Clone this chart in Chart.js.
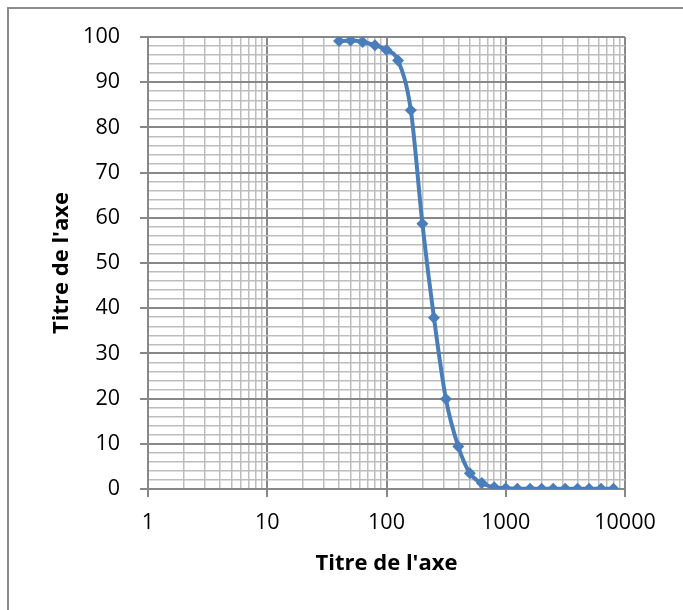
<!DOCTYPE html>
<html>
<head>
<meta charset="utf-8">
<script src="https://cdn.jsdelivr.net/npm/chart.js@4/dist/chart.umd.min.js"></script>
<style>
  html, body { margin: 0; padding: 0; background: #fff; overflow: hidden; }
  canvas { display: block; }
</style>
</head>
<body>
<canvas id="chart" width="683" height="610"></canvas>
<script>
// sieve sizes (x) and percent passing (y)
const sizes = [40, 50, 63, 80, 100, 125, 160, 200, 250, 315, 400, 500, 630, 800,
               1000, 1250, 1600, 2000, 2500, 3150, 4000, 5000, 6300, 8000];
const passing = [99.1, 99.2, 98.9, 98.2, 97.1, 94.8, 83.8, 58.7, 37.9, 19.9, 9.4, 3.5, 1.3, 0.4,
                 0.15, 0.05, 0.05, 0.05, 0.05, 0.05, 0.05, 0.05, 0.05, 0.05];

const decades = [1, 10, 100, 1000];
const multipliers = [1, 2, 3, 4, 5, 6, 7, 8, 9];
const xMax = 10000;
const xTitle = "Titre de l'axe";
const yTitle = "Titre de l'axe";

const xTicks = [];
decades.forEach(d => multipliers.forEach(m => xTicks.push(d * m)));
xTicks.push(xMax);

const majorGrid = '#888888';
const minorGrid = '#bdbdbd';
const blue = '#4a7ebb';

const isPow10 = v => Math.abs(Math.log10(v) - Math.round(Math.log10(v))) < 1e-9;

// outer chart frame (only left and top edges are inside the picture)
const framePlugin = {
  id: 'frame',
  beforeDraw(chart) {
    const ctx = chart.ctx;
    ctx.save();
    ctx.strokeStyle = '#8c8c8c';
    ctx.lineWidth = 2;
    ctx.beginPath();
    ctx.moveTo(8, chart.height);
    ctx.lineTo(8, 8);
    ctx.lineTo(chart.width, 8);
    ctx.stroke();
    ctx.restore();
  }
};

new Chart(document.getElementById('chart'), {
  type: 'line',
  data: {
    datasets: [{
      data: sizes.map((s, i) => ({ x: s, y: passing[i] })),
      borderColor: blue,
      backgroundColor: blue,
      borderWidth: 4,
      cubicInterpolationMode: 'monotone',
      pointStyle: 'rectRot',
      pointRadius: 6,
      pointBorderWidth: 0,
      pointBackgroundColor: blue
    }]
  },
  plugins: [framePlugin],
  options: {
    responsive: false,
    animation: false,
    layout: { padding: { top: 37, right: 58, left: 0, bottom: 0 } },
    plugins: { legend: { display: false }, tooltip: { enabled: false } },
    scales: {
      x: {
        type: 'logarithmic',
        min: 1,
        max: xMax,
        afterBuildTicks: scale => { scale.ticks = xTicks.map(v => ({ value: v })); },
        afterFit: scale => { scale.height = 121; },
        ticks: {
          autoSkip: false,
          maxRotation: 0,
          padding: 13,
          color: '#000',
          font: { family: 'Open Sans', size: 21.5 },
          callback: v => isPow10(v) ? String(v) : ''
        },
        grid: {
          color: ctx => isPow10(ctx.tick.value) ? majorGrid : minorGrid,
          lineWidth: ctx => isPow10(ctx.tick.value) ? 2 : 1.5,
          tickColor: ctx => isPow10(ctx.tick.value) ? majorGrid : 'rgba(0,0,0,0)',
          tickLength: 8
        },
        border: { color: majorGrid, width: 2 },
        title: {
          display: true,
          text: xTitle,
          color: '#000',
          font: { family: 'Open Sans', size: 22, weight: 'bold' },
          padding: { top: 0, bottom: 33 }
        }
      },
      y: {
        min: 0,
        max: 100,
        afterFit: scale => { scale.width = 148; },
        ticks: {
          stepSize: 2,
          autoSkip: false,
          padding: 20,
          color: '#000',
          font: { family: 'Open Sans', size: 21.5 },
          callback: v => v % 10 === 0 ? String(v) : ''
        },
        grid: {
          color: ctx => ctx.tick.value % 10 === 0 ? majorGrid : minorGrid,
          lineWidth: ctx => ctx.tick.value % 10 === 0 ? 2 : 1.5,
          tickColor: ctx => ctx.tick.value % 10 === 0 ? majorGrid : 'rgba(0,0,0,0)',
          tickLength: 8
        },
        border: { color: majorGrid, width: 2 },
        title: {
          display: true,
          text: yTitle,
          color: '#000',
          font: { family: 'Open Sans', size: 22, weight: 'bold' },
          padding: { top: 49, bottom: 0 }
        }
      }
    }
  }
});
</script>
</body>
</html>
